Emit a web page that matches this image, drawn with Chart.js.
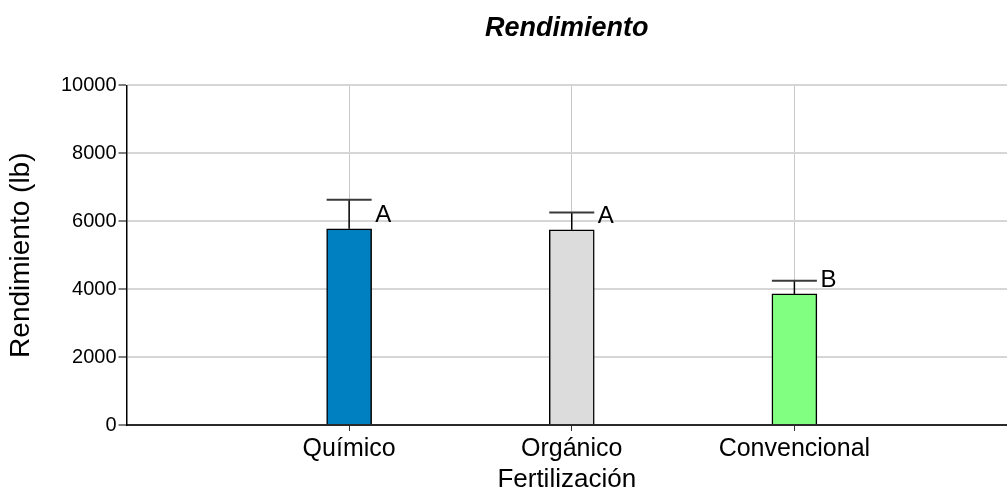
<!DOCTYPE html>
<html>
<head>
<meta charset="utf-8">
<script src="https://cdn.jsdelivr.net/npm/chart.js@4/dist/chart.umd.min.js"></script>
<style>
  html, body { margin: 0; padding: 0; background: #ffffff; overflow: hidden; }
  #wrap { width: 1007px; height: 495px; position: relative; }
</style>
</head>
<body>
<div id="wrap"><canvas id="chart"></canvas></div>
<script>
// Yield by fertilization type (mean, upper error, significance group)
const categories = ['Químico', 'Orgánico', 'Convencional'];
const yieldMeans = [5780, 5750, 3860];
const yieldErrors = [850, 510, 385];
const groupLetters = ['A', 'A', 'B'];
const barColors = ['#0080c0', '#dcdcdc', '#80ff80'];
const yTicks = [0, 2000, 4000, 6000, 8000, 10000];

const FONT = '"Liberation Sans", Arial, sans-serif';

// Upper error bars and group letters drawn on top of each bar
const errorBarPlugin = {
  id: 'errorBars',
  afterDatasetsDraw(chart) {
    const meta = chart.getDatasetMeta(0);
    const yScale = chart.scales.y;
    const ctx = chart.ctx;
    ctx.save();
    meta.data.forEach((bar, i) => {
      const top = yScale.getPixelForValue(yieldMeans[i] + yieldErrors[i]);
      const half = bar.width / 2;
      ctx.strokeStyle = '#000000';
      ctx.lineWidth = 1.5;
      ctx.beginPath();
      ctx.moveTo(bar.x, bar.y);
      ctx.lineTo(bar.x, top);
      ctx.stroke();
      ctx.strokeStyle = '#3a3a3a';
      ctx.lineWidth = 2;
      ctx.beginPath();
      ctx.moveTo(bar.x - half, top);
      ctx.lineTo(bar.x + half, top);
      ctx.stroke();
      ctx.fillStyle = '#000000';
      ctx.font = '24px ' + FONT;
      ctx.textAlign = 'left';
      ctx.textBaseline = 'alphabetic';
      ctx.fillText(groupLetters[i], bar.x + half + 3.5, bar.y - 6.5);
    });
    ctx.restore();
  }
};

new Chart(document.getElementById('chart'), {
  type: 'bar',
  data: {
    datasets: [{
      data: categories.map((c, i) => ({ x: i + 1, y: yieldMeans[i] })),
      backgroundColor: barColors,
      borderColor: '#000000',
      borderWidth: 1.5,
      barThickness: 45
    }]
  },
  options: {
    responsive: true,
    maintainAspectRatio: false,
    animation: false,
    layout: { padding: 0 },
    plugins: {
      legend: { display: false },
      tooltip: { enabled: false },
      title: {
        display: true,
        text: 'Rendimiento',
        fullSize: false,
        color: '#000000',
        font: { family: FONT, size: 27, weight: 'bold', style: 'italic' },
        padding: { top: 12, bottom: 41 }
      }
    },
    scales: {
      x: {
        type: 'linear',
        min: 0,
        max: 3.955,
        offset: false,
        afterBuildTicks: s => { s.ticks = categories.map((c, i) => ({ value: i + 1 })); },
        afterFit: s => { s.height = 70; },
        ticks: {
          callback: v => categories[v - 1] ?? '',
          color: '#000000',
          font: { family: FONT, size: 25 },
          padding: 3,
          autoSkip: false,
          maxRotation: 0
        },
        grid: {
          offset: false,
          color: '#c8c8c8',
          lineWidth: 1,
          tickColor: '#333333',
          tickLength: 6,
          tickWidth: 1
        },
        border: { color: '#2a2a2a', width: 2 },
        title: {
          display: true,
          text: 'Fertilización',
          color: '#000000',
          font: { family: FONT, size: 26 },
          padding: { top: 0, bottom: 0 }
        }
      },
      y: {
        min: 0,
        max: 10000,
        afterBuildTicks: s => { s.ticks = yTicks.map(v => ({ value: v })); },
        afterFit: s => { s.width = 126.5; },
        ticks: {
          callback: v => String(v),
          color: '#000000',
          font: { family: FONT, size: 20 },
          padding: 2
        },
        grid: {
          color: '#d6d6d6',
          lineWidth: 2,
          tickColor: '#000000',
          tickLength: 8,
          tickWidth: 1
        },
        border: { color: '#000000', width: 1.5 },
        title: {
          display: true,
          text: 'Rendimiento (lb)',
          color: '#000000',
          font: { family: FONT, size: 28 },
          padding: { top: 4, bottom: 0 }
        }
      }
    }
  },
  plugins: [errorBarPlugin]
});
</script>
</body>
</html>
